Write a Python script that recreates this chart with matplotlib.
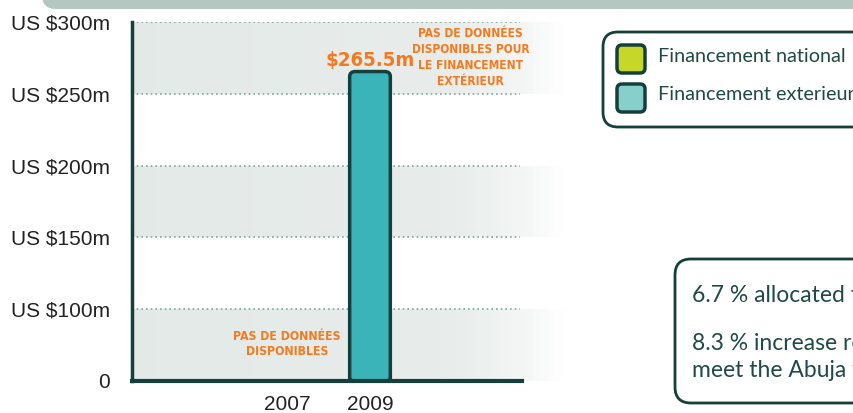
import numpy as np
import matplotlib
matplotlib.use("Agg")
import matplotlib.pyplot as plt
from matplotlib import font_manager as fm
from matplotlib.patches import FancyBboxPatch

# données
years = ['2007', '2009']
ext_funding = [np.nan, 265.5]          # financement extérieur (US$ m)
nat_funding = [np.nan, np.nan]         # financement national : pas de données
y_ticks = [0, 100, 150, 200, 250, 300]
y_labels = ['0', 'US $100m', 'US $150m', 'US $200m', 'US $250m', 'US $300m']
legend_labels = ['Financement national', 'Financement exterieur']
box_lines = ['6.7 % allocated to health',
             '8.3 % increase required to\nmeet the Abuja target']

ORANGE = '#f57a1f'
DARK = '#153f3b'
TXT = '#1f4a47'

# police étroite si disponible
cond = [f for f in fm.fontManager.ttflist
        if f.stretch in ('condensed', 'semi-condensed', 'extra-condensed', 'ultra-condensed')
        or 'Condensed' in f.name or 'Narrow' in f.name]
cond.sort(key=lambda f: (0 if str(f.weight) in ('bold', '700', '600', 'semibold') else 1))
if cond:
    NARROW = dict(family=[cond[0].name, 'DejaVu Sans'], fontstretch=cond[0].stretch,
                  fontweight='bold')
    k = 1.0
else:
    NARROW = dict(family=['Roboto', 'DejaVu Sans'], fontweight='bold')
    k = 0.85

W, H = 854, 413
fig = plt.figure(figsize=(W / 100, H / 100), dpi=100)

# calque de décor en coordonnées pixels
ov = fig.add_axes([0, 0, 1, 1], zorder=0)
ov.set_xlim(0, W)
ov.set_ylim(H, 0)
ov.axis('off')

# bandeau du haut
ov.add_patch(FancyBboxPatch((42, -30), 900, 39, boxstyle='round,pad=0,rounding_size=14',
                            fc='#b4c7c1', ec='none'))

# légende
ov.add_patch(FancyBboxPatch((603, 32), 300, 95, boxstyle='round,pad=0,rounding_size=15',
                            fc='white', ec=DARK, lw=2))
for i, (lab, col) in enumerate(zip(legend_labels, ['#c6d72a', '#86cfcb'])):
    yc = 59 + i * 39
    ov.add_patch(FancyBboxPatch((617, yc - 14), 28, 28, boxstyle='round,pad=0,rounding_size=5',
                                fc=col, ec=DARK, lw=2.5))
    ov.text(658, yc - 3, lab, fontsize=14.3, family='Lato', color=TXT, va='center', ha='left')

# encadré
ov.add_patch(FancyBboxPatch((675, 259), 300, 144, boxstyle='round,pad=0,rounding_size=16',
                            fc='white', ec=DARK, lw=2))
ov.text(692, 296, box_lines[0], fontsize=16.5, family='Lato', color=TXT, va='center')
ov.text(692, 357, box_lines[1], fontsize=16.5, family='Lato', color=TXT, va='center',
        linespacing=1.4)

# axe principal
ax = fig.add_axes([132 / W, 32 / H, (565 - 132) / W, (381 - 22) / H], zorder=1)
ax.patch.set_alpha(0)


def fwd(v):
    v = np.asarray(v, dtype=float)
    return np.where(v >= 100, (v - 50) / 50, v / 100)


def inv(p):
    p = np.asarray(p, dtype=float)
    return np.where(p >= 1, p * 50 + 50, p * 100)


ax.set_yscale('function', functions=(fwd, inv))
x = np.arange(len(years))
xl = (-(287 - 132) / 83, (565 - 287) / 83)
ax.set_xlim(*xl)
ax.set_ylim(0, 300)

# bandes grises en dégradé
n = 80
for lo, hi in [(0, 100), (150, 200), (250, 300)]:
    for i in range(n):
        t = i / n
        a = 1 - np.clip((t - 0.72) / 0.28, 0, 1) ** 1.5
        c0 = np.array([0.89, 0.915, 0.905]) * (1 - 0.5 * t) + np.array([0.94, 0.95, 0.945]) * 0.5 * t
        c = c0 * a + (1 - a)
        ax.axhspan(lo, hi, xmin=t, xmax=t + 1.0 / n + 0.002, color=c, lw=0, zorder=0)

ax.hlines(y_ticks[1:], xl[0], 2.81, colors='#7fa59c', linestyles=(0, (1, 1.8)), lw=1.2, zorder=1)

bars = ax.bar(x, ext_funding, width=0.49, color='none')
for b in bars:
    h = b.get_height()
    if not np.isfinite(h):
        continue
    ax.add_patch(FancyBboxPatch((b.get_x(), b.get_y()), b.get_width(), h,
                                boxstyle='round,pad=0,rounding_size=0.07', mutation_aspect=50,
                                fc='#3bb4b9', ec=DARK, lw=2.5, zorder=3))
    ax.annotate(f'${h}m', (b.get_x() + b.get_width() / 2, h), xytext=(0, 1),
                textcoords='offset points', ha='center', va='bottom', color=ORANGE,
                fontsize=14.6 * k, **NARROW)

ax.text(2.21, 275, 'PAS DE DONNÉES\nDISPONIBLES POUR\nLE FINANCEMENT\nEXTÉRIEUR', ha='center',
        va='center', color=ORANGE, fontsize=8.6 * k, linespacing=1.3, **NARROW)
ax.text(0, 51, 'PAS DE DONNÉES\nDISPONIBLES', ha='center', va='center', color=ORANGE,
        fontsize=8.8 * k, linespacing=1.2, **NARROW)

ax.set_xticks(x, years)
ax.set_yticks(y_ticks, y_labels)
ax.tick_params(length=0, labelsize=15, colors='#222222')
ax.tick_params(axis='y', pad=16)
ax.tick_params(axis='x', pad=10)
for lab in ax.get_xticklabels() + ax.get_yticklabels():
    lab.set_family('Liberation Sans')
for s in ['top', 'right']:
    ax.spines[s].set_visible(False)
ax.spines['left'].set_color(DARK)
ax.spines['left'].set_linewidth(2.5)
ax.spines['bottom'].set_color(DARK)
ax.spines['bottom'].set_linewidth(3)
ax.spines['bottom'].set_bounds(xl[0], 2.83)
ax.spines['left'].set_zorder(4)
ax.spines['bottom'].set_zorder(4)

fig.savefig('out.png', dpi=100)
